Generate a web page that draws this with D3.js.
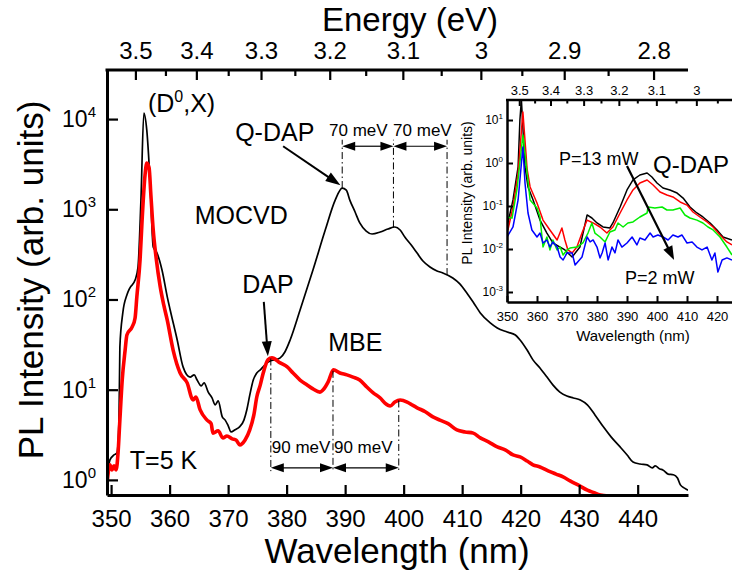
<!DOCTYPE html>
<html>
<head>
<meta charset="utf-8">
<script src="https://cdn.jsdelivr.net/npm/d3@7"></script>
<style>
  body { margin: 0; background: #fff; }
  svg { display: block; font-family: "Liberation Sans", Arial, sans-serif; }
</style>
</head>
<body>
<svg id="chart" width="732" height="577"></svg>
<script>
// ---------- data ----------
const HC = 1239.84; // eV*nm

// MOCVD GaN, T = 5 K (main panel, black)
const mocvdWl = [349.3,349.8,350.5,351.0,351.35,351.5,352.0,352.7,353.2,354.1,354.6,355.1,355.6,356.1,356.65,357.2,357.85,358.7,359.6,360.1,361.3,362.3,363.5,364.2,364.7,365.4,365.9,366.6,367.25,367.8,368.3,369.0,369.5,370.0,370.5,371.2,372.0,372.7,373.2,373.7,374.3,374.9,375.5,376.1,376.65,377.2,378.0,378.9,379.7,380.6,382.3,384.5,386.6,388.3,389.5,390.2,390.8,391.7,392.5,393.6,394.6,396.0,397.3,398.5,399.4,400.2,401.3,402.3,403.3,404.5,405.7,406.7,408.4,409.6,410.8,412.0,413.1,414.8,416.0,417.7,419.1,419.9,421.1,422.1,423.3,424.5,425.5,426.7,427.9,429.0,430.2,431.4,432.7,434.1,435.45,437.0,438.2,439.2,440.4,441.6,442.5,443.0,443.8,444.3,445.2,446.1,446.8,447.3,448.0,448.6];
const mocvdI = [1.05,1.67,1.89,1.99,4.6,29.8,71,112,134,164,229,1260,11660,7550,2110,382,327,212,107,76.5,35.6,17.9,13.8,14.6,12.8,11.0,11.9,9.4,8.1,6.8,7.5,5.0,4.6,4.0,3.4,3.6,3.9,4.6,6.0,8.7,12.8,15.3,16.6,18.3,19.8,20.8,21.4,22.5,26.2,35.6,76.5,212,589,1265,1720,1630,1265,933,705,574,532,560,604,636,589,493,402,327,267,229,207,197,173,149,118,91,71,55,48.3,43.6,40.4,35.6,27.5,21.4,17.4,13.8,11.3,9.4,8.5,8.1,7.7,6.8,5.25,3.9,3.0,2.32,1.89,1.58,1.50,1.47,1.36,1.43,1.32,1.29,1.16,1.14,1.05,0.88,0.81,0.77];

// MBE GaN, T = 5 K (main panel, red)
const mbeWl = [349.3,349.8,350.15,350.5,350.85,351.2,351.5,351.9,352.4,352.7,353.6,354.1,354.4,354.95,355.3,355.8,356.1,356.5,356.8,357.2,357.7,358.4,359.0,359.6,360.6,361.8,363.0,364.0,364.5,365.2,366.4,367.1,367.4,368.3,369.1,369.8,370.7,371.35,372.0,372.9,373.7,374.4,374.9,375.5,376.0,376.8,377.5,378.9,380.1,381.1,382.3,383.5,384.5,385.7,386.2,387.1,388.0,389.1,390.3,391.35,392.5,393.7,394.8,396.0,396.8,397.7,398.5,399.4,400.6,401.4,402.3,403.7,405.0,406.2,407.6,409.1,410.5,411.9,413.1,414.5,416.0,417.35,418.7,419.9,421.1,422.1,423.3,424.7,426.05,427.25,428.45,429.8,431.4,432.55,433.6,435.0];
const mbeI = [0.90,1.47,1.29,1.43,1.29,2.04,4.6,12.8,27.5,40.4,49.6,62.4,107,274,760,2400,3250,2860,1440,589,288,138,87,59,27.5,15.3,11.9,7.7,8.3,6.0,4.6,4.2,3.3,3.5,2.92,3.07,2.85,2.77,2.44,2.77,3.58,5.25,8.3,11.3,15.3,21.4,22.5,19.8,17.9,15.3,12.8,11.3,10.2,9.4,9.9,12.2,16.6,15.3,14.6,13.8,12.8,10.7,9.2,8.1,7.1,6.6,7.3,7.7,7.3,6.8,6.3,5.7,5.0,4.6,4.2,3.58,3.4,3.3,2.92,2.64,2.32,2.15,1.89,1.80,1.62,1.47,1.39,1.26,1.16,1.08,0.975,0.88,0.77,0.72,0.68,0.66];

// Excitation power series (inset)
const p13Wl = [350.0,352.0,353.7,354.3,354.8,356.0,357.0,358.7,361.0,363.3,365.3,367.7,369.3,370.3,371.7,374.3,376.7,378.3,380.0,382.0,384.3,385.3,387.7,390.0,392.0,394.3,396.7,398.3,400.0,402.0,404.3,406.7,408.7,411.0,413.3,415.3,417.7,420.0,422.0,425.0];
const p13I = [0.0325,0.138,0.81,10,30,0.81,0.277,0.138,0.047,0.0235,0.0138,0.0111,0.0095,0.0081,0.0065,0.0111,0.0618,0.0526,0.0403,0.0325,0.0308,0.0403,0.0948,0.236,0.403,0.526,0.585,0.472,0.343,0.262,0.236,0.200,0.153,0.0948,0.0688,0.0555,0.0403,0.0277,0.019,0.0162];

const pRedWl = [350.3,352.0,353.7,355.3,356.7,357.7,360.0,362.0,364.3,366.7,368.3,369.3,370.3,371.7,373.3,375.0,376.7,378.7,381.0,383.3,385.3,387.7,390.0,392.0,394.3,396.7,398.7,401.0,403.3,405.3,407.7,410.0,412.0,414.3,416.7,418.7,421.0,423.3,425.0];
const pRedI = [0.0277,0.0948,0.585,15.3,0.724,0.277,0.117,0.047,0.0277,0.0162,0.0308,0.0162,0.0095,0.0081,0.0111,0.0235,0.047,0.0403,0.0325,0.0235,0.0325,0.0688,0.138,0.236,0.343,0.403,0.308,0.212,0.180,0.162,0.124,0.105,0.0725,0.0555,0.0425,0.0325,0.0212,0.0146,0.0124];

const pGreenWl = [350.0,351.7,353.3,355.3,356.7,357.7,360.0,361.0,362.0,363.3,364.3,365.3,366.7,367.7,368.7,370.0,371.0,373.3,375.3,377.0,378.3,379.3,381.0,382.7,384.3,386.0,387.0,388.7,390.3,392.0,394.3,396.7,397.0,399.3,401.7,403.3,405.3,407.7,409.3,411.0,413.3,415.3,417.0,418.7,421.0,423.3,425.0];
const pGreenI = [0.0555,0.0526,0.236,4.47,0.585,0.138,0.0898,0.0555,0.0111,0.019,0.0095,0.0162,0.0095,0.0111,0.00725,0.0095,0.0105,0.0111,0.0138,0.0235,0.0403,0.0235,0.019,0.0146,0.0248,0.0277,0.0403,0.0325,0.0403,0.0425,0.0555,0.0688,0.0948,0.0898,0.0948,0.0807,0.0807,0.0898,0.0618,0.0526,0.047,0.0403,0.0325,0.0277,0.019,0.0111,0.00725];

const p2Wl = [350.0,352.0,353.7,355.3,356.0,357.0,358.3,360.0,361.0,362.0,363.3,364.3,365.3,366.7,367.7,368.7,370.0,371.7,372.7,375.0,376.7,377.7,378.7,380.0,381.0,381.7,382.7,383.7,385.0,386.0,387.0,388.3,390.0,391.7,393.3,394.3,396.0,397.7,398.7,400.3,402.0,403.7,405.3,407.0,408.3,410.0,411.7,413.3,415.0,416.7,418.3,419.3,420.3,421.7,423.3,425.0];
const p2I = [0.019,0.0325,0.138,2.36,0.343,0.0688,0.0277,0.019,0.0235,0.0138,0.0162,0.0111,0.0146,0.0111,0.0065,0.00555,0.0081,0.0081,0.00425,0.0065,0.019,0.0146,0.0162,0.0111,0.0062,0.0081,0.0138,0.00555,0.0111,0.0081,0.0162,0.0111,0.0138,0.019,0.0124,0.018,0.0162,0.0235,0.019,0.0212,0.019,0.0162,0.0212,0.019,0.0212,0.0138,0.0146,0.0111,0.0095,0.0111,0.00555,0.0081,0.0029,0.00555,0.0062,0.00555];

// tick values
const wlMajor = [350,360,370,380,390,400,410,420,430,440];
const wlMinor = [355,365,375,385,395,405,415,425,435,445];
const energyMajor = [3.5,3.4,3.3,3.2,3.1,3.0,2.9,2.8];
const energyMinor = [3.45,3.35,3.25,3.15,3.05,2.95,2.85];
const mainDecades = [0,1,2,3,4];
const insetWlMajor = [350,360,370,380,390,400,410,420];
const insetWlMinor = [355,365,375,385,395,405,415,425];
const insetEnergyMajor = [3.5,3.4,3.3,3.2,3.1,3.0];
const insetEnergyMinor = [3.45,3.35,3.25,3.15,3.05,2.95];
const insetDecades = [-3,-2,-1,0,1];

// phonon-replica spacings (eV) and the zero-phonon peaks (nm)
const qdapStep = 0.070, qdapPeak = 389.5;
const mbeStep = 0.090, dapPeak = 377.3;

// ---------- helpers ----------
const svg = d3.select("#chart");
const zip = (a, b) => a.map((v, i) => [v, b[i]]);

function minorLogTicks(lo, hi) {
  const out = [];
  for (let e = Math.floor(Math.log10(lo)); e <= Math.ceil(Math.log10(hi)); e++)
    for (let m = 2; m <= 9; m++) { const v = m * Math.pow(10, e); if (v >= lo && v <= hi) out.push(v); }
  return out;
}
function interpLog(wl, I, at) {
  const i = Math.max(1, d3.bisectLeft(wl, at));
  const t = (at - wl[i - 1]) / (wl[i] - wl[i - 1]);
  return Math.pow(10, Math.log10(I[i - 1]) + t * (Math.log10(I[i]) - Math.log10(I[i - 1])));
}
function head(g, x1, y1, x2, y2, len, hw) {
  const a = Math.atan2(y2 - y1, x2 - x1), c = Math.cos(a), s = Math.sin(a);
  const bx = x2 - len * c, by = y2 - len * s;
  g.append("path")
    .attr("d", `M${x2},${y2}L${bx - hw * s},${by + hw * c}L${bx + hw * s},${by - hw * c}Z`)
    .attr("fill", "#000");
}
function arrow(g, x1, y1, x2, y2, len, hw, w) {
  const a = Math.atan2(y2 - y1, x2 - x1);
  g.append("line").attr("x1", x1).attr("y1", y1)
    .attr("x2", x2 - (len - 1) * Math.cos(a)).attr("y2", y2 - (len - 1) * Math.sin(a))
    .attr("stroke", "#000").attr("stroke-width", w);
  head(g, x1, y1, x2, y2, len, hw);
}
function doubleArrow(g, xa, xb, yy) {
  g.append("line").attr("x1", xa + 10).attr("x2", xb - 10).attr("y1", yy).attr("y2", yy)
    .attr("stroke", "#000").attr("stroke-width", 1.2);
  head(g, xb, yy, xa, yy, 13, 4.5);
  head(g, xa, yy, xb, yy, 13, 4.5);
}
function text(g, s, x, y, size, anchor) {
  return g.append("text").attr("x", x).attr("y", y).attr("font-size", size)
    .attr("text-anchor", anchor || "start").attr("fill", "#000").text(s);
}
function powerLabel(g, x, y, exp, size, supSize, supDy) {
  const t = g.append("text").attr("x", x).attr("y", y).attr("font-size", size)
    .attr("text-anchor", "end").attr("fill", "#000");
  t.append("tspan").text("10");
  t.append("tspan").attr("font-size", supSize).attr("dy", supDy).text(String(exp));
}
const eFmt = e => (Math.abs(e - Math.round(e)) < 1e-9 ? String(Math.round(e)) : e.toFixed(1));

// ---------- main panel ----------
const x = d3.scaleLinear().domain([349.3, 448.6]).range([107, 688]);
const y = d3.scaleLog().domain([0.68, 35000]).range([495, 70]);
const main = svg.append("g");

const defs = svg.append("defs");
defs.append("clipPath").attr("id", "mainClip")
  .append("rect").attr("x", 107).attr("y", 70).attr("width", 581).attr("height", 425);

const line = d3.line().x(d => x(d[0])).y(d => y(d[1])).curve(d3.curveMonotoneX);
const curves = main.append("g").attr("clip-path", "url(#mainClip)");
curves.append("path").datum(zip(mocvdWl, mocvdI)).attr("d", line)
  .attr("fill", "none").attr("stroke", "#000").attr("stroke-width", 1.7).attr("stroke-linejoin", "round");
curves.append("path").datum(zip(mbeWl, mbeI)).attr("d", line)
  .attr("fill", "none").attr("stroke", "#ff0000").attr("stroke-width", 3.6).attr("stroke-linejoin", "round");

// bottom wavelength axis
const axisB = main.append("g").attr("transform", "translate(0,495)");
axisB.call(d3.axisBottom(x).tickValues(wlMinor.filter(v => v <= 448.6)).tickSizeInner(-6).tickSizeOuter(0).tickFormat(""));
axisB.call(d3.axisBottom(x).tickValues(wlMajor).tickSizeInner(-10).tickSizeOuter(0).tickPadding(15).tickFormat(d3.format("d")));
axisB.selectAll(".tick line").attr("stroke-width", 2.2);
axisB.selectAll(".domain").attr("stroke-width", 3);
axisB.selectAll("text").attr("font-size", 24).attr("font-family", "Liberation Sans, Arial, sans-serif");

// left intensity axis
const axisL = main.append("g").attr("transform", "translate(107,0)");
axisL.call(d3.axisLeft(y).tickValues(minorLogTicks(0.68, 35000)).tickSizeInner(-6).tickSizeOuter(0).tickFormat(""));
axisL.call(d3.axisLeft(y).tickValues(mainDecades.map(e => Math.pow(10, e))).tickSizeInner(-11).tickSizeOuter(0).tickFormat(""));
axisL.selectAll(".tick line").attr("stroke-width", 2.2);
axisL.selectAll(".domain").attr("stroke-width", 3);
mainDecades.forEach(e => powerLabel(main, 96, y(Math.pow(10, e)) + 8, e, 23, 15, -10));

// top energy axis
const axisT = main.append("g");
axisT.append("line").attr("x1", 105.5).attr("x2", 688).attr("y1", 70).attr("y2", 70)
  .attr("stroke", "#000").attr("stroke-width", 3);
axisT.selectAll(".maj").data(energyMajor).join("line")
  .attr("x1", e => x(HC / e)).attr("x2", e => x(HC / e)).attr("y1", 70).attr("y2", 80)
  .attr("stroke", "#000").attr("stroke-width", 2.2);
axisT.selectAll(".min").data(energyMinor.filter(e => HC / e <= 448.6)).join("line")
  .attr("x1", e => x(HC / e)).attr("x2", e => x(HC / e)).attr("y1", 70).attr("y2", 76)
  .attr("stroke", "#000").attr("stroke-width", 2.2);
energyMajor.forEach(e => text(main, eFmt(e), x(HC / e), 59, 24, "middle"));

// axis titles
text(main, "Energy (eV)", 410, 31, 33, "middle");
text(main, "Wavelength (nm)", 397, 563, 35, "middle");
main.append("text").attr("transform", "translate(43,280) rotate(-90)")
  .attr("text-anchor", "middle").attr("font-size", 35).text("PL Intensity (arb. units)");

// annotations
const ann = main.append("g");
const dx = ann.append("text").attr("x", x(356.3)).attr("y", y(11950)).attr("font-size", 25);
dx.append("tspan").text("(D");
dx.append("tspan").attr("font-size", 16).attr("dy", -10).text("0");
dx.append("tspan").attr("dy", 10).text(",X)");
text(ann, "Q-DAP", x(371.2), y(5700), 25);
text(ann, "MOCVD", x(364.3), y(687), 25);
text(ann, "DAP", x(372.4), y(118), 25);
text(ann, "MBE", x(387.1), y(26.9), 25);
text(ann, "T=5 K", x(353.2), y(1.32), 25);

arrow(ann, x(379.4), y(5000), x(389.2), y(1850), 15, 5, 2);
arrow(ann, x(376.1), y(94), x(376.8), y(23.5), 15, 5, 2);

// Q-DAP phonon replicas on the MOCVD curve
const qdapE0 = HC / qdapPeak;
const qdapLines = [0, 1, 2].map(k => HC / (qdapE0 - k * qdapStep));
qdapLines.forEach(l => {
  ann.append("line").attr("x1", x(l)).attr("x2", x(l))
    .attr("y1", y(interpLog(mocvdWl, mocvdI, l))).attr("y2", y(5900))
    .attr("stroke", "#000").attr("stroke-width", 1).attr("stroke-dasharray", "7,3,1.5,3");
});
doubleArrow(ann, x(qdapLines[0]), x(qdapLines[1]), y(5000));
doubleArrow(ann, x(qdapLines[1]), x(qdapLines[2]), y(5000));
text(ann, `${Math.round(qdapStep * 1000)} meV`, x(387.25), y(6500), 17);
text(ann, `${Math.round(qdapStep * 1000)} meV`, x(398.2), y(6500), 17);

// DAP phonon replicas on the MBE curve
const dapE0 = HC / dapPeak;
const mbeLines = [0, 1, 2].map(k => HC / (dapE0 - k * mbeStep));
mbeLines.forEach(l => {
  ann.append("line").attr("x1", x(l)).attr("x2", x(l))
    .attr("y1", y(interpLog(mbeWl, mbeI, l))).attr("y2", y(1.25))
    .attr("stroke", "#000").attr("stroke-width", 1).attr("stroke-dasharray", "7,3,1.5,3");
});
doubleArrow(ann, x(mbeLines[0]), x(mbeLines[1]), y(1.36));
doubleArrow(ann, x(mbeLines[1]), x(mbeLines[2]), y(1.36));
text(ann, `${Math.round(mbeStep * 1000)} meV`, x(mbeLines[0]) + 1, y(2.0), 17);
text(ann, `${Math.round(mbeStep * 1000)} meV`, x(mbeLines[1]) + 1, y(2.0), 17);

// ---------- inset: excitation power dependence ----------
const ix = d3.scaleLinear().domain([350, 425]).range([507, 732]);
const iy = d3.scaleLog().domain([0.000585, 29.2]).range([302, 100]);
const inset = svg.append("g");

defs.append("clipPath").attr("id", "insetClip")
  .append("rect").attr("x", 507).attr("y", 100).attr("width", 226).attr("height", 202);

const iline = d3.line().x(d => ix(d[0])).y(d => iy(d[1]));
const icurves = inset.append("g").attr("clip-path", "url(#insetClip)");
[[p13Wl, p13I, "#000000"], [pRedWl, pRedI, "#ff0000"], [pGreenWl, pGreenI, "#00ee00"], [p2Wl, p2I, "#0000ff"]]
  .forEach(([w, I, c]) => icurves.append("path").datum(zip(w, I)).attr("d", iline)
    .attr("fill", "none").attr("stroke", c).attr("stroke-width", 1.5).attr("stroke-linejoin", "round"));

// inset frame and axes
const ib = inset.append("g").attr("transform", "translate(0,302)");
ib.call(d3.axisBottom(ix).tickValues(insetWlMinor).tickSizeInner(-3.5).tickSizeOuter(0).tickFormat(""));
ib.call(d3.axisBottom(ix).tickValues(insetWlMajor).tickSizeInner(-6).tickSizeOuter(0).tickPadding(10).tickFormat(d3.format("d")));
ib.selectAll(".tick line").attr("stroke-width", 2);
ib.selectAll(".domain").attr("stroke-width", 2.5);
ib.selectAll("text").attr("font-size", 13).attr("font-family", "Liberation Sans, Arial, sans-serif");

const il = inset.append("g").attr("transform", "translate(507,0)");
il.call(d3.axisLeft(iy).tickValues(minorLogTicks(0.000585, 29.2)).tickSizeInner(-3.5).tickSizeOuter(0).tickFormat(""));
il.call(d3.axisLeft(iy).tickValues(insetDecades.map(e => Math.pow(10, e))).tickSizeInner(-6).tickSizeOuter(0).tickFormat(""));
il.selectAll(".tick line").attr("stroke-width", 2);
il.selectAll(".domain").attr("stroke-width", 2.5);
insetDecades.forEach(e => powerLabel(inset, 503, iy(Math.pow(10, e)) + 4, e, 12, 8, -5));

inset.append("line").attr("x1", 506).attr("x2", 732).attr("y1", 100).attr("y2", 100)
  .attr("stroke", "#000").attr("stroke-width", 2.5);
inset.selectAll(".imaj").data(insetEnergyMajor).join("line")
  .attr("x1", e => ix(HC / e)).attr("x2", e => ix(HC / e)).attr("y1", 100).attr("y2", 106)
  .attr("stroke", "#000").attr("stroke-width", 2);
inset.selectAll(".imin").data(insetEnergyMinor).join("line")
  .attr("x1", e => ix(HC / e)).attr("x2", e => ix(HC / e)).attr("y1", 100).attr("y2", 103.5)
  .attr("stroke", "#000").attr("stroke-width", 2);
insetEnergyMajor.forEach(e => text(inset, eFmt(e), ix(HC / e), 95, 13, "middle"));

text(inset, "Wavelength (nm)", 633, 341, 15, "middle");
inset.append("text").attr("transform", "translate(472,193) rotate(-90)")
  .attr("text-anchor", "middle").attr("font-size", 14).text("PL Intensity (arb. units)");

// inset annotations
text(inset, "P=13 mW", ix(367.3), iy(0.9), 18);
text(inset, "Q-DAP", 729, iy(0.585), 24, "end");
text(inset, "P=2 mW", ix(389.3), iy(0.00153), 18);
arrow(inset, ix(390), iy(0.85), ix(405.7), iy(0.00555), 14, 5, 2.2);
</script>
</body>
</html>
